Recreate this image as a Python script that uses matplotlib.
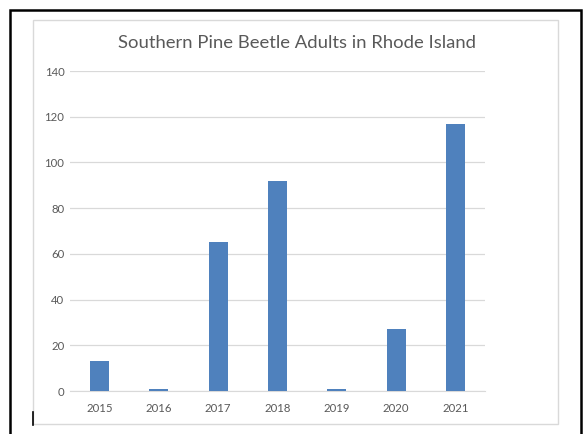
import matplotlib
matplotlib.use('Agg')
import matplotlib.pyplot as plt
from matplotlib.patches import Rectangle
from matplotlib.lines import Line2D

years = ['2015', '2016', '2017', '2018', '2019', '2020', '2021']
adults = [13, 1, 65, 92, 1, 27, 117]
yticks = [0, 20, 40, 60, 80, 100, 120, 140]

W, H = 584, 434
fig = plt.figure(figsize=(W / 100, H / 100), dpi=100)
plt.rcParams['font.family'] = ['Lato', 'DejaVu Sans']

# outer black frame and inner chart-area box
fig.add_artist(Rectangle((10 / W, -0.05), 571 / W, 1.05 - 10 / H, transform=fig.transFigure,
                         fill=False, edgecolor='black', lw=1.8))
fig.add_artist(Rectangle((33 / W, 1 - 424 / H), 525 / W, 404 / H, transform=fig.transFigure,
                         fill=False, edgecolor='#D9D9D9', lw=1.0))
fig.add_artist(Line2D([33 / W, 33 / W], [1 - 425 / H, 1 - 412 / H], transform=fig.transFigure,
                      color='black', lw=1.2))

ax = fig.add_axes([70 / W, 1 - 391 / H, 415 / W, 320 / H])
x = range(len(years))
ax.bar(x, adults, width=0.32, color='#4F81BD', zorder=3)
ax.set_xlim(-0.5, len(years) - 0.5)
ax.set_ylim(0, 140)
ax.set_yticks(yticks)
ax.set_xticks(list(x))
ax.set_xticklabels(years)
ax.grid(axis='y', color='#D9D9D9', lw=0.9, zorder=0)
for s in ['left', 'right', 'top']:
    ax.spines[s].set_visible(False)
ax.spines['bottom'].set_color('#D9D9D9')
ax.tick_params(axis='both', length=0, labelsize=8.2, labelcolor='#595959')
ax.tick_params(axis='y', pad=4)
ax.tick_params(axis='x', pad=9)

fig.text(297 / W, 1 - 43 / H, 'Southern Pine Beetle Adults in Rhode Island',
         ha='center', va='center', fontsize=13.3, color='#595959')

fig.savefig('out.png', dpi=100)
